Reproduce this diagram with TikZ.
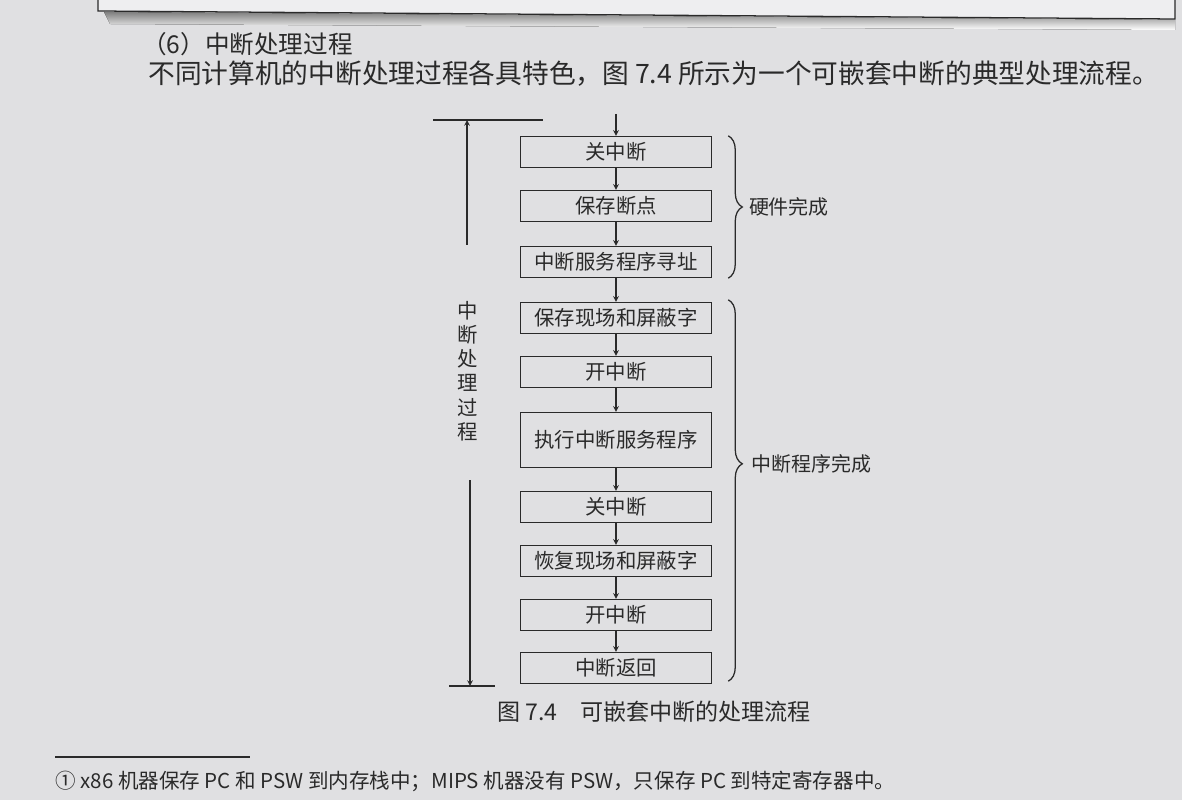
\documentclass[tikz,border=0pt]{standalone}
\usepackage{fontspec}
\setmainfont{Noto Sans CJK SC}
\usetikzlibrary{arrows, positioning, calc, decorations.pathreplacing}
\definecolor{paper}{RGB}{224,224,226}
\definecolor{sheet}{RGB}{238,238,240}
\definecolor{shade}{RGB}{150,150,152}
\definecolor{ink}{RGB}{42,42,42}

\tikzset{
  stepbox/.style={draw=ink, line width=1pt, rectangle, minimum width=4.775cm, minimum height=0.775cm, inner sep=0pt, text=ink, font=\fontsize{14.5}{16}\selectfont},
  flow/.style={->, >=stealth, draw=ink, line width=0.8pt},
  sidebrace/.style={decorate, draw=ink, line width=0.9pt},
  pagetext/.style={text=ink, inner sep=0pt, anchor=west},
}

\begin{document}
\begin{tikzpicture}[x=0.025cm, y=-0.025cm]
  \useasboundingbox (0,0) rectangle (1182,800);
  \fill[paper] (0,0) rectangle (1182,800);

  % Cut-off box of the previous section
  \fill[shade] (104,12) -- (1175,20) -- (1175,30) -- (110,24) -- cycle;
  \filldraw[fill=sheet, draw=ink, line width=0.9pt] (98,-5) -- (98,11) -- (1175,19) -- (1175,-5);

  % Text above the figure
  \node[pagetext, font=\fontsize{17.5}{20}\selectfont] (head) at (142,44) {（6）中断处理过程};
  \node[pagetext, font=\fontsize{19}{22}\selectfont] (intro) at (148,74) {不同计算机的中断处理过程各具特色，图 7.4 所示为一个可嵌套中断的典型处理流程。};

  % Flow of steps
  \node[stepbox] (b1) at (616,152) {关中断};
  \node[stepbox] (b2) at (616,206) {保存断点};
  \node[stepbox] (b3) at (616,262) {中断服务程序寻址};
  \node[stepbox] (b4) at (616,318) {保存现场和屏蔽字};
  \node[stepbox] (b5) at (616,372) {开中断};
  \node[stepbox, minimum height=1.375cm] (b6) at (616,440) {执行中断服务程序};
  \node[stepbox] (b7) at (616,507) {关中断};
  \node[stepbox] (b8) at (616,561) {恢复现场和屏蔽字};
  \node[stepbox] (b9) at (616,615) {开中断};
  \node[stepbox] (b10) at (616,668) {中断返回};

  % Arrows
  \coordinate (entry) at (616,114);
  \draw[flow] (entry) -- (b1);
  \foreach \a/\b in {b1/b2, b2/b3, b3/b4, b4/b5, b5/b6, b6/b7, b7/b8, b8/b9, b9/b10}
    \draw[flow] (\a) -- (\b);

  % Braces on the right
  \draw[sidebrace, decoration={brace, amplitude=10pt}] ($(b1.north east)+(16,0)$) -- ($(b3.south east)+(16,0)$)
    node[midway, right=11pt, text=ink, font=\fontsize{14.2}{16}\selectfont] (hw) {硬件完成};
  \draw[sidebrace, decoration={brace, amplitude=10pt, aspect=0.43}] ($(b4.north east)+(16,-2)$) -- ($(b10.south east)+(16,-3)$)
    node[pos=0.43, right=13pt, text=ink, font=\fontsize{14.2}{16}\selectfont] (sw) {中断程序完成};

  % Span on the left
  \coordinate (upfoot) at (467,245);
  \coordinate (uphead) at (467,120);
  \coordinate (downtop) at (470,480);
  \coordinate (downfoot) at (470,686);
  \draw[flow] (upfoot) -- (uphead);
  \draw[ink, line width=0.9pt] (433,120) -- (543,120);
  \node[text=ink, align=center, inner sep=0pt, font=\fontsize{14.5}{17.2}\selectfont] (span) at (468,371) {中\\断\\处\\理\\过\\程};
  \draw[flow] (downtop) -- (downfoot);
  \draw[ink, line width=0.9pt] (449,686) -- (495,686);

  % Caption and footnote
  \node[text=ink, font=\fontsize{16.4}{19}\selectfont] (caption) at (654,712) {图 7.4\quad 可嵌套中断的处理流程};
  \draw[ink, line width=0.9pt] (55,757) -- (250,757);
  \node[pagetext, font=\fontsize{14.6}{17}\selectfont] (foot) at (55,781) {① x86 机器保存 PC 和 PSW 到内存栈中；MIPS 机器没有 PSW，只保存 PC 到特定寄存器中。};
\end{tikzpicture}
\end{document}
